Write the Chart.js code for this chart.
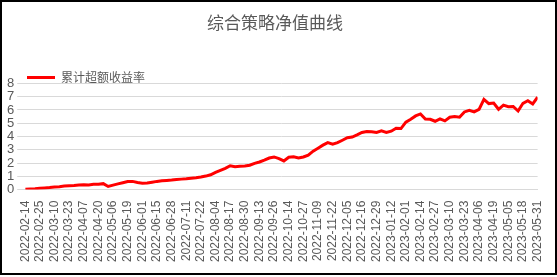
<!DOCTYPE html>
<html>
<head>
<meta charset="utf-8">
<script src="https://cdn.jsdelivr.net/npm/chart.js@4/dist/chart.umd.min.js"></script>
<style>
  body { margin: 0; background: #fff; }
  #frame { width: 557px; height: 275px; box-sizing: border-box; border: 2px solid #000; background: #fff; }
  canvas { display: block; }
</style>
</head>
<body>
<div id="frame"><canvas id="chart" width="553" height="271"></canvas></div>
<script>
// 横轴刻度，每 9 个交易日一个
const tickLabels = [
    '2022-02-14', '2022-02-25', '2022-03-10', '2022-03-23', '2022-04-07', '2022-04-20',
    '2022-05-06', '2022-05-19', '2022-06-01', '2022-06-15', '2022-06-28', '2022-07-11',
    '2022-07-22', '2022-08-04', '2022-08-17', '2022-08-30', '2022-09-13', '2022-09-26',
    '2022-10-14', '2022-10-27', '2022-11-09', '2022-11-22', '2022-12-05', '2022-12-16',
    '2022-12-29', '2023-01-12', '2023-02-01', '2023-02-14', '2023-02-27', '2023-03-10',
    '2023-03-23', '2023-04-06', '2023-04-19', '2023-05-05', '2023-05-18', '2023-05-31'
];
const daysPerTick = 9;
const daysPerPoint = 3;

// 累计超额收益率 (每 3 个交易日取一个点)
const excessReturn = [
    0.02, 0.05, 0.07, 0.10, 0.13, 0.16, 0.20, 0.22, 0.27, 0.30,
    0.31, 0.34, 0.36, 0.35, 0.40, 0.41, 0.45, 0.24, 0.34, 0.43,
    0.52, 0.61, 0.62, 0.53, 0.48, 0.50, 0.56, 0.62, 0.66, 0.69,
    0.72, 0.76, 0.79, 0.82, 0.86, 0.90, 0.95, 1.02, 1.12, 1.30,
    1.45, 1.60, 1.80, 1.73, 1.76, 1.78, 1.84, 1.98, 2.08, 2.22,
    2.38, 2.46, 2.33, 2.16, 2.44, 2.47, 2.38, 2.46, 2.60, 2.90,
    3.12, 3.35, 3.54, 3.42, 3.54, 3.72, 3.91, 3.96, 4.12, 4.30,
    4.38, 4.36, 4.30, 4.42, 4.30, 4.40, 4.62, 4.60, 5.08, 5.30,
    5.55, 5.70, 5.32, 5.30, 5.15, 5.33, 5.18, 5.45, 5.50, 5.45,
    5.85, 5.98, 5.85, 6.04, 6.80, 6.48, 6.52, 6.05, 6.36, 6.24,
    6.26, 5.92, 6.50, 6.70, 6.45, 6.96
];

const points = excessReturn.map((v, i) => ({ x: i * daysPerPoint, y: v }));
const textColor = '#595959';
const fontFamily = 'Arial, "Liberation Sans", "Noto Sans CJK SC", sans-serif';

// 图例压到绘图区上沿
const tightLegend = {
    id: 'tightLegend',
    beforeInit(chart) {
        const fit = chart.legend.fit;
        chart.legend.fit = function () {
            fit.call(this);
            this.height -= 10;
        };
    }
};

new Chart(document.getElementById('chart').getContext('2d'), {
    type: 'line',
    data: {
        datasets: [{
            label: '累计超额收益率',
            data: points,
            borderColor: '#ff0000',
            backgroundColor: '#ff0000',
            borderWidth: 3,
            pointRadius: 0,
            tension: 0
        }]
    },
    options: {
        responsive: false,
        animation: false,
        layout: { padding: { left: 2, right: 9, top: 4, bottom: 8 } },
        plugins: {
            title: {
                display: true,
                text: '综合策略净值曲线',
                color: textColor,
                font: { size: 17, family: '"Noto Sans CJK SC", sans-serif', weight: 'normal' },
                padding: { top: 6, bottom: 16 }
            },
            legend: {
                position: 'top',
                align: 'start',
                labels: {
                    usePointStyle: true,
                    pointStyle: 'line',
                    pointStyleWidth: 28,
                    color: textColor,
                    font: { size: 12, family: '"Noto Sans CJK SC", sans-serif' },
                    padding: 23
                }
            },
            tooltip: { enabled: false }
        },
        scales: {
            x: {
                type: 'linear',
                min: 0,
                max: (tickLabels.length - 1) * daysPerTick,
                grid: { display: false },
                border: { color: '#d9d9d9' },
                ticks: {
                    stepSize: daysPerTick,
                    autoSkip: false,
                    maxRotation: 90,
                    minRotation: 90,
                    color: textColor,
                    font: { size: 12, family: fontFamily },
                    callback: (v) => tickLabels[Math.round(v / daysPerTick)]
                }
            },
            y: {
                min: 0,
                max: 8,
                grid: { color: '#d9d9d9' },
                border: { display: false },
                ticks: {
                    stepSize: 1,
                    autoSkip: false,
                    color: textColor,
                    font: { size: 13, family: fontFamily }
                }
            }
        }
    },
    plugins: [tightLegend]
});
</script>
</body>
</html>
